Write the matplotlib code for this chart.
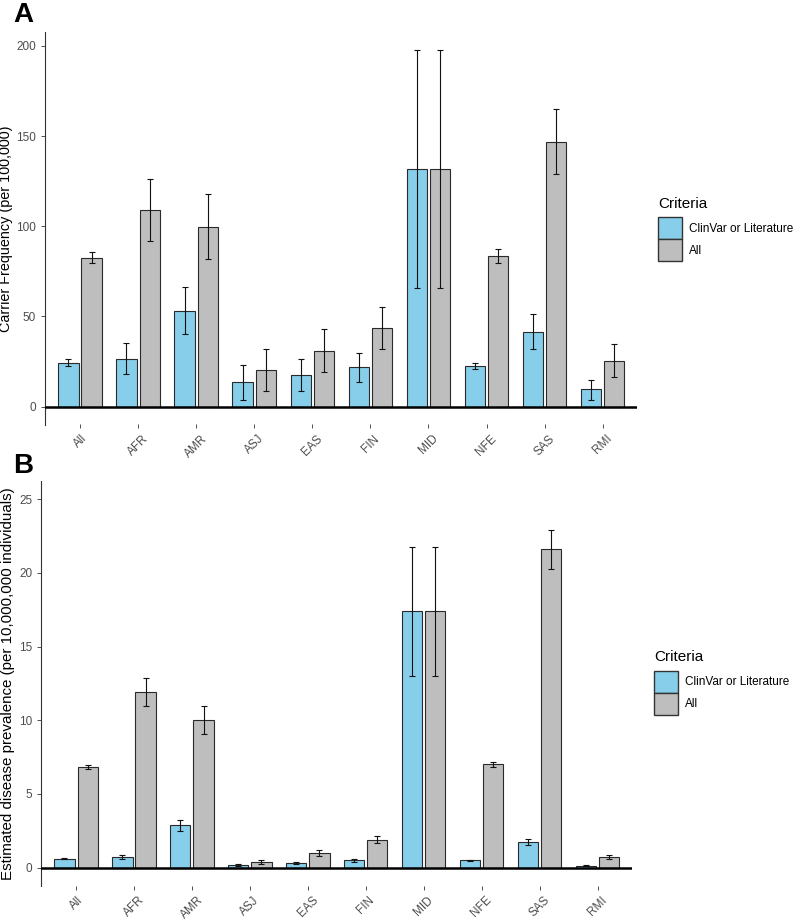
"""
plot.py
-------

Carrier frequency (A) and estimated disease prevalence (B) per population,
ClinVar/Literature variants vs. all variants, with 95% CI error bars.
"""

from __future__ import annotations

import matplotlib

matplotlib.use("Agg")
import matplotlib.pyplot as plt
import numpy as np
from matplotlib.patches import Patch

plt.rcParams["font.family"] = ["Liberation Sans", "DejaVu Sans"]

POPS = ["All", "AFR", "AMR", "ASJ", "EAS", "FIN", "MID", "NFE", "SAS", "RMI"]
SERIES = ["ClinVar or Literature", "All"]
COLORS = ["#87CEEB", "#BEBEBE"]

# ---- A: carrier frequency (per 100,000) ----
cf_clin = [24.4, 26.6, 53.0, 13.5, 17.7, 21.8, 131.9, 22.4, 41.6, 9.6]
cf_clin_lo = [22.7, 18.0, 40.1, 3.7, 8.7, 13.5, 66.0, 20.7, 31.8, 3.9]
cf_clin_hi = [26.3, 35.1, 66.5, 22.9, 26.6, 29.9, 197.7, 24.4, 51.2, 15.0]
cf_all = [82.6, 109.0, 99.8, 20.3, 31.0, 43.5, 131.9, 83.4, 146.9, 25.5]
cf_all_lo = [79.5, 92.0, 81.7, 8.5, 19.4, 31.8, 66.0, 79.5, 129.2, 16.3]
cf_all_hi = [85.8, 126.0, 118.1, 31.8, 42.9, 55.4, 197.7, 87.3, 164.9, 34.6]

# ---- B: estimated disease prevalence (per 10,000,000) ----
pv_clin = [0.61, 0.72, 2.87, 0.20, 0.32, 0.50, 17.40, 0.50, 1.74, 0.12]
pv_clin_lo = [0.58, 0.61, 2.50, 0.14, 0.25, 0.41, 13.02, 0.47, 1.53, 0.08]
pv_clin_hi = [0.64, 0.83, 3.23, 0.25, 0.38, 0.59, 21.77, 0.53, 1.94, 0.15]
pv_all = [6.81, 11.89, 10.00, 0.38, 1.02, 1.90, 17.40, 7.00, 21.60, 0.70]
pv_all_lo = [6.70, 10.99, 9.07, 0.25, 0.81, 1.65, 13.02, 6.81, 20.26, 0.56]
pv_all_hi = [6.95, 12.86, 10.94, 0.52, 1.22, 2.17, 21.77, 7.18, 22.92, 0.83]


def draw_panel(ax, groups, ylim, yticks, ylabel, label_x, label_size):
    x = np.arange(1, len(POPS) + 1)
    offsets = [-0.2, 0.2]
    for (vals, lo, hi), off, col in zip(groups, offsets, COLORS):
        vals = np.array(vals)
        ax.bar(x + off, vals, width=0.35, color=col, edgecolor="#2a2a2a",
               linewidth=0.8, zorder=2)
        yerr = [vals - np.array(lo), np.array(hi) - vals]
        ax.errorbar(x + off, vals, yerr=yerr, fmt="none", ecolor="#111111",
                    elinewidth=0.8, capsize=2.5, capthick=0.8, zorder=3)

    ax.axhline(0, color="black", linewidth=1.8, zorder=4)
    ax.set_xlim(0.4, len(POPS) + 0.6)
    ax.set_ylim(*ylim)
    ax.set_yticks(yticks)
    ax.set_xticks(x)
    ax.set_xticklabels(POPS, rotation=45, ha="center", va="top")

    for s in ["top", "right", "bottom"]:
        ax.spines[s].set_visible(False)
    ax.spines["left"].set_color("#333333")
    ax.spines["left"].set_linewidth(0.8)
    ax.tick_params(axis="both", colors="#333333", labelcolor="#4D4D4D",
                   labelsize=8.5, length=3, width=0.6)
    ax.tick_params(axis="x", length=3, pad=3)
    ax.set_ylabel(ylabel, fontsize=label_size)
    ax.yaxis.set_label_coords(label_x, 0.5)


def add_legend(fig, x_px, y_px):
    handles = [Patch(facecolor=c, edgecolor="#333333", linewidth=1.0) for c in COLORS]
    leg = fig.legend(handles, SERIES, title="Criteria", loc="upper left",
                     bbox_to_anchor=(x_px / 794, 1 - y_px / 921),
                     bbox_transform=fig.transFigure, frameon=False,
                     fontsize=8.5, title_fontsize=11, alignment="left",
                     handlelength=2.0, handleheight=2.45, labelspacing=0.02,
                     handletextpad=0.6, borderpad=0, borderaxespad=0)
    # gap between title and keys
    leg._legend_box.sep = 5
    return leg


def main() -> None:
    fig = plt.figure(figsize=(7.94, 9.21), dpi=100)

    ax_a = fig.add_axes([45.2 / 794, 1 - 424.5 / 921, 592.3 / 794, 392.3 / 921])
    draw_panel(
        ax_a,
        [(cf_clin, cf_clin_lo, cf_clin_hi), (cf_all, cf_all_lo, cf_all_hi)],
        (-9.9, 207.6), [0, 50, 100, 150, 200],
        "Carrier Frequency (per 100,000)",
        (13 - 45.2) / 592.3, 10.4,
    )

    ax_b = fig.add_axes([41.3 / 794, 1 - 886 / 921, 591 / 794, 405.3 / 921])
    draw_panel(
        ax_b,
        [(pv_clin, pv_clin_lo, pv_clin_hi), (pv_all, pv_all_lo, pv_all_hi)],
        (-1.25, 26.25), [0, 5, 10, 15, 20, 25],
        "Estimated disease prevalence (per 10,000,000 individuals)",
        (15 - 41.3) / 591, 10.9,
    )

    add_legend(fig, 658, 196.5)
    add_legend(fig, 654, 650)

    fig.text(13 / 794, 1 - 22 / 921, "A", fontsize=20, fontweight="bold")
    fig.text(13 / 794, 1 - 473 / 921, "B", fontsize=20, fontweight="bold")

    fig.savefig("out.png", dpi=100)
    plt.close(fig)


if __name__ == "__main__":
    main()
